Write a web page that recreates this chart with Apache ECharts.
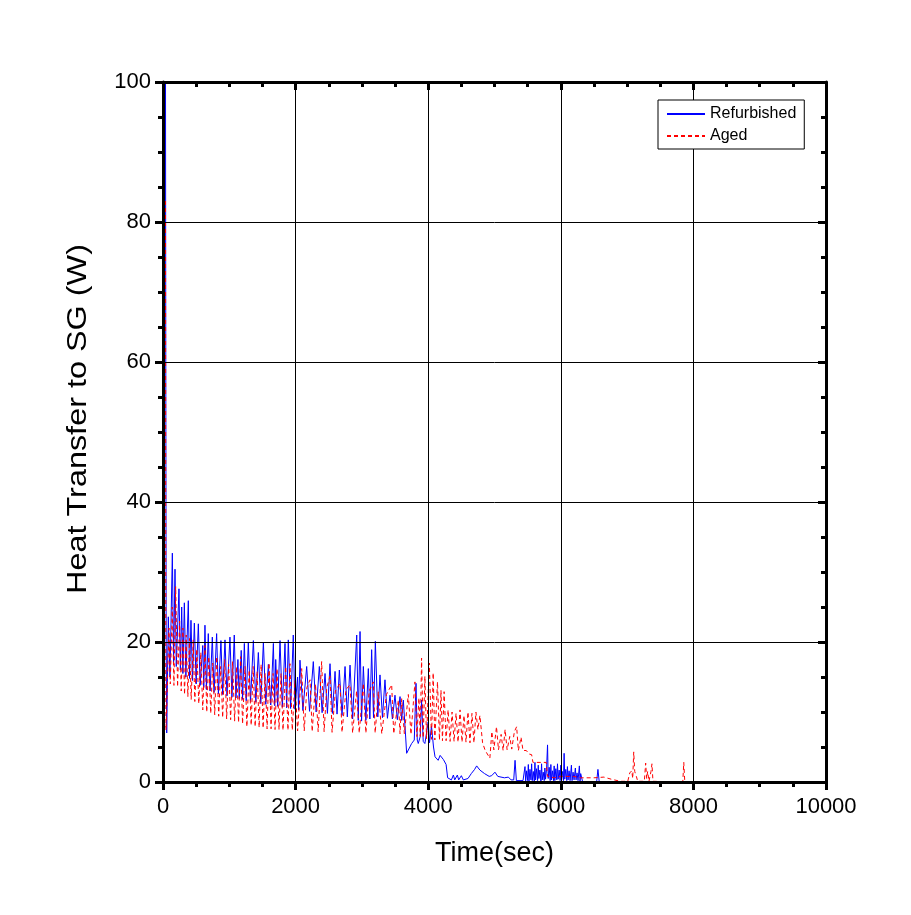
<!DOCTYPE html>
<html>
<head>
<meta charset="utf-8">
<script src="https://cdn.jsdelivr.net/npm/echarts@6/dist/echarts.min.js"></script>
<style>
  html, body { margin: 0; padding: 0; background: #fff; }
  #chart { width: 911px; height: 915px; }
</style>
</head>
<body>
<div id="chart"></div>
<script>
// Refurbished (solid blue) - time (sec) and heat transfer (W)
let refT = [38, 42, 48, 56, 80, 105, 141, 160, 181, 200, 241, 262, 282, 300, 322, 345, 382, 400, 422, 445,
  473, 500, 533, 560, 600, 615, 633, 655, 683, 710, 744, 770, 809, 835, 874, 900, 935, 965, 1010, 1040,
  1075, 1100, 1130, 1150, 1180, 1200, 1227, 1255, 1287, 1320, 1363, 1400, 1438, 1475, 1514, 1550, 1589, 1625, 1665, 1685,
  1700, 1730, 1765, 1800, 1840, 1865, 1890, 1925, 1965, 1990, 2030, 2045, 2066, 2110, 2167, 2210, 2267, 2310, 2358, 2400,
  2444, 2480, 2519, 2555, 2595, 2625, 2660, 2700, 2746, 2780, 2821, 2860, 2922, 2945, 2972, 2995, 3022, 3060, 3097, 3120,
  3147, 3175, 3203, 3240, 3273, 3310, 3348, 3385, 3424, 3460, 3499, 3535, 3575, 3600, 3625, 3650, 3675, 3700, 3750, 3790,
  3816, 3835, 3850, 3880, 3900, 3925, 3950, 3975, 4000, 4020, 4050, 4080, 4103, 4150, 4180, 4200, 4230, 4253, 4270, 4293,
  4350, 4380, 4400, 4440, 4460, 4500, 4530, 4600, 4650, 4700, 4731, 4780, 4850, 4920, 4957, 5007, 5050, 5150, 5209, 5250,
  5290, 5310, 5330, 5430, 5460, 5470, 5485, 5500, 5510, 5520, 5535, 5550, 5560, 5570, 5585, 5600, 5610, 5620, 5635, 5650,
  5660, 5670, 5685, 5700, 5710, 5720, 5735, 5750, 5760, 5770, 5785, 5800, 5810, 5825, 5840, 5850, 5860, 5875, 5890, 5900,
  5910, 5925, 5940, 5950, 5960, 5975, 5990, 6000, 6010, 6025, 6040, 6050, 6060, 6075, 6090, 6100, 6110, 6125, 6140, 6160,
  6170, 6185, 6200, 6220, 6230, 6245, 6260, 6280, 6290, 6300, 6330, 6540, 6560, 6580]
let refV = [100, 60, 20, 7, 23.6, 15, 32.7, 17, 30.4, 16.5, 27.6, 16, 25, 15.5, 25.6, 15, 25.9, 14.8, 23.1, 14.5,
  22.7, 14, 22.6, 13.8, 19.5, 13.5, 22.4, 13.2, 21.2, 13, 20.7, 12.8, 21.2, 12.6, 20.2, 12.5, 20.3, 12.3, 20.7, 12.1,
  21, 12, 17.5, 11.9, 18.8, 11.8, 19.8, 11.6, 20, 11.5, 20.2, 11.4, 18.5, 11.2, 20, 11.1, 16.8, 11, 19.8, 10.9,
  17.5, 10.8, 20.2, 10.7, 19.8, 10.6, 20.3, 10.5, 21, 10.4, 15, 10.3, 17.4, 10.2, 16.5, 10.1, 17.2, 10, 16.5, 9.9,
  15.5, 9.8, 16.9, 9.8, 15.8, 9.7, 16, 9.5, 16.5, 9.3, 16.7, 9, 21, 8.8, 21.5, 8.7, 16.5, 8.8, 16.2, 9,
  18.9, 9.2, 20.1, 9.3, 15.3, 9.2, 14.6, 9.1, 12.4, 9, 12.4, 8.9, 12.2, 8.8, 11.7, 8, 4.1, 4.3, 5.5, 6,
  14.1, 6, 5.5, 6.5, 11.7, 5.8, 5.5, 7, 8.6, 5.6, 8, 5, 3.6, 3.1, 3.8, 3.9, 3.2, 3.1, 2.5, 0.6,
  0.3, 1, 0.3, 1, 0.3, 0.9, 0.3, 0.5, 1.2, 1.8, 2.3, 1.7, 1.2, 0.8, 0.9, 1.4, 0.8, 0.6, 0.7, 0.3,
  0.3, 3.1, 0.2, 0.2, 2.2, 0.1, 1.6, 0.2, 2.5, 0.1, 1.8, 0.3, 2.6, 0.2, 1.5, 0.1, 2.8, 0.3, 1.9, 0.2,
  2.4, 0.5, 1.7, 0.1, 2.6, 0.3, 1.4, 0.2, 2, 0.4, 1.8, 5.3, 0.5, 2.1, 0.2, 2.5, 0.3, 1.6, 0.2, 2.3,
  0.2, 1.9, 0.3, 2.6, 0.4, 1.7, 0.2, 2.4, 0.3, 1.5, 0.2, 4.1, 0.4, 1.8, 0.2, 2.2, 0.3, 1.6, 0.2, 2.4,
  0.2, 1.4, 0.3, 2, 0.3, 1.3, 0.2, 2.3, 0.1, 1.2, 0, 0, 1.8, 0]

// Aged (dashed red)
let agedT = [38, 40, 42, 45, 60, 90, 110, 140, 165, 191, 220, 250, 275, 300, 325, 350, 375, 400, 425, 455,
  480, 510, 540, 570, 600, 633, 660, 690, 720, 750, 780, 810, 840, 870, 900, 930, 960, 990, 1020, 1050,
  1080, 1110, 1140, 1170, 1200, 1237, 1265, 1300, 1330, 1360, 1390, 1420, 1450, 1480, 1510, 1540, 1570, 1600, 1630, 1660,
  1690, 1720, 1750, 1780, 1810, 1850, 1885, 1915, 1950, 1990, 2030, 2092, 2130, 2170, 2218, 2250, 2300, 2340, 2393, 2430,
  2470, 2519, 2550, 2600, 2670, 2700, 2760, 2821, 2860, 2920, 2960, 3022, 3060, 3110, 3172, 3200, 3248, 3300, 3370, 3449,
  3480, 3550, 3575, 3600, 3640, 3700, 3740, 3800, 3830, 3860, 3880, 3900, 3925, 3950, 3975, 4017, 4050, 4075, 4100, 4140,
  4170, 4193, 4215, 4240, 4270, 4300, 4330, 4360, 4390, 4420, 4450, 4480, 4510, 4540, 4570, 4600, 4630, 4660, 4690, 4720,
  4750, 4780, 4820, 4860, 4930, 4960, 4990, 5030, 5060, 5100, 5130, 5160, 5190, 5230, 5260, 5300, 5334, 5360, 5400, 5430,
  5480, 5520, 5560, 5580, 5780, 5800, 5900, 6000, 6190, 6300, 6500, 6650, 6760, 6900, 7010, 7040, 7070, 7085, 7100, 7115,
  7140, 7160, 7260, 7280, 7295, 7310, 7330, 7360, 7375, 7390, 7840, 7855, 7870]
let agedV = [83, 50, 15, 7.4, 12, 22, 14, 25, 13.8, 27.9, 13.6, 23, 13, 22, 12.5, 21, 12.2, 20.5, 11.8, 20.3,
  11.5, 19, 11.2, 18.5, 10.3, 19.5, 10, 17.9, 9.8, 17, 9.6, 17.9, 9.4, 16.5, 9.2, 17.5, 9, 16.8, 8.9, 17.2,
  8.7, 16.5, 8.5, 17.9, 8.3, 16.5, 7.9, 16, 8.1, 16.5, 7.9, 15.8, 7.8, 16.8, 7.7, 15.5, 7.6, 17, 7.6, 15.5,
  7.5, 16.2, 7.5, 15.5, 7.4, 16.5, 7.4, 16.9, 7.4, 14.5, 7.3, 16.2, 7.3, 13.5, 14.6, 7.2, 14, 7.2, 17.2, 7.2,
  13.5, 15.1, 7.1, 13, 14.1, 7.1, 13.2, 13.9, 7, 13, 7, 14.1, 7, 13, 14.3, 7, 12.9, 6.9, 12.5, 13.9,
  6.9, 11.7, 6.9, 11.9, 6.9, 12.5, 6.8, 14.3, 6.5, 12, 6.5, 17.7, 6.3, 15.1, 6.2, 17, 6.1, 15.6, 6, 14.3,
  6, 13.1, 5.9, 12.9, 5.9, 10.3, 5.8, 10, 5.8, 9.8, 5.7, 10.3, 5.7, 9.5, 5.7, 10, 5.6, 9.8, 5.6, 10,
  7.5, 9.5, 5.6, 4.5, 3.4, 7.2, 4.6, 7.9, 4.6, 6.8, 4.5, 7.5, 4.6, 6.5, 4.7, 7.2, 7.9, 4.5, 6.4, 4.5,
  4.5, 4, 3.9, 2.8, 2.8, 0.8, 0.6, 0.8, 0.8, 0.6, 0.6, 0.7, 0.4, 0.1, 0.1, 1.3, 1.6, 0.5, 4.3, 1.5,
  0.8, 0.1, 0.1, 2.7, 0.5, 1.5, 0.1, 1.5, 2.6, 0.1, 0, 2.8, 0]

let seriesNames = ["Refurbished", "Aged"]
let xTicks = [0, 2000, 4000, 6000, 8000, 10000]
let yTicks = [0, 20, 40, 60, 80, 100]

function pairs(t, v) {
  let out = []
  for (let i = 0; i < t.length; i++) {
    out.push([t[i], v[i]])
  }
  return out
}

let font = "Arial, 'Liberation Sans', sans-serif"
let myChart = echarts.init(document.getElementById("chart"))

// shared frame settings, ticks on all four sides
function frameAxis(pos, withLabels, ticks) {
  let isX = pos === "bottom" || pos === "top"
  return {
    type: "value",
    position: pos,
    min: ticks[0],
    max: ticks[ticks.length - 1],
    interval: ticks[1] - ticks[0],
    z: 10,
    axisLine: { show: true, onZero: false, lineStyle: { color: "#000", width: 3 } },
    axisTick: { show: true, inside: !withLabels, length: 8, lineStyle: { color: "#000", width: 3 } },
    minorTick: { show: true, splitNumber: 4, length: 5, lineStyle: { color: "#000", width: 3 } },
    axisLabel: {
      show: withLabels,
      color: "#000",
      fontSize: 22,
      fontFamily: font,
      margin: isX ? 14 : 12,
      formatter: function (v) { return String(v) }
    },
    splitLine: { show: withLabels, lineStyle: { color: "#000", width: 1 } }
  }
}

let xBottom = frameAxis("bottom", true, xTicks)
xBottom.name = "Time(sec)"
xBottom.nameLocation = "middle"
xBottom.nameGap = 58
xBottom.nameTextStyle = { color: "#000", fontSize: 27, fontFamily: font }

let option = {
  backgroundColor: "#fff",
  animation: false,
  grid: { left: 163, right: 85, top: 82, bottom: 133, containLabel: false },
  legend: {
    data: seriesNames,
    orient: "vertical",
    left: 658,
    top: 100,
    z: 20,
    backgroundColor: "#fff",
    borderColor: "#000",
    borderWidth: 1,
    padding: [6, 8, 5, 8],
    itemWidth: 38,
    itemHeight: 10,
    itemGap: 6,
    itemStyle: { opacity: 0 },
    textStyle: { color: "#000", fontSize: 16, fontFamily: font }
  },
  // y title as text, stretched a bit along its length like the original
  graphic: [
    {
      type: "text",
      x: 79,
      y: 419,
      rotation: Math.PI / 2,
      scaleX: 1.2,
      style: {
        text: "Heat Transfer to SG (W)",
        fill: "#000",
        font: "27px " + font,
        align: "center",
        verticalAlign: "middle"
      }
    }
  ],
  xAxis: [xBottom, frameAxis("top", false, xTicks)],
  yAxis: [frameAxis("left", true, yTicks), frameAxis("right", false, yTicks)],
  series: [
    {
      name: seriesNames[0],
      type: "line",
      symbol: "none",
      data: pairs(refT, refV),
      lineStyle: { color: "#0000ff", width: 1 },
      itemStyle: { color: "#0000ff" }
    },
    {
      name: seriesNames[1],
      type: "line",
      symbol: "none",
      data: pairs(agedT, agedV),
      lineStyle: { color: "#ff0000", width: 1, type: [4, 3] },
      itemStyle: { color: "#ff0000" }
    }
  ]
}
myChart.setOption(option)
</script>
</body>
</html>
